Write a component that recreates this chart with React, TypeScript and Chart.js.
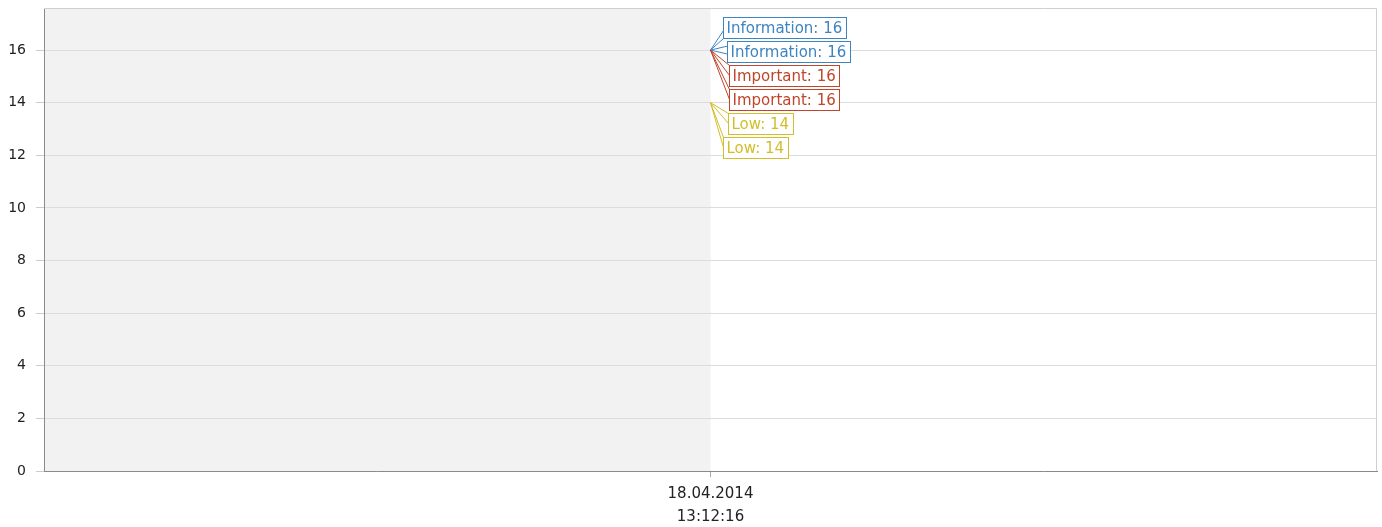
import React, { useEffect, useRef } from "react";
import { Chart, registerables } from "chart.js";

Chart.register(...registerables);

const categories: string[][] = [["18.04.2014", "13:12:16"]];
const seriesNames = ["Information", "Information", "Important", "Important", "Low", "Low"];
const seriesValues = [[16], [16], [16], [16], [14], [14]];
const seriesColors = ["#3d84c2", "#3d84c2", "#c0452a", "#c0452a", "#d4bd2a", "#d4bd2a"];
const yTicks = { min: 0, max: 17.6, step: 2 };

const FONT = "DejaVu Sans";

const labelOffsetsX = [12, 16, 18, 18, 17, 12];

const decoPlugin = {
  id: "deco",
  beforeDraw(chart: any) {
    const { ctx, chartArea } = chart;
    const xs = chart.scales.x;
    const cx = xs.getPixelForValue(0);
    ctx.save();
    ctx.fillStyle = "#f2f2f2";
    ctx.fillRect(chartArea.left, chartArea.top, cx - chartArea.left, chartArea.bottom - chartArea.top);
    ctx.restore();
  },
  afterDraw(chart: any) {
    const { ctx, chartArea } = chart;
    ctx.save();
    ctx.strokeStyle = "#cfcfcf";
    ctx.lineWidth = 1;
    ctx.beginPath();
    ctx.moveTo(chartArea.left, chartArea.top + 0.5);
    ctx.lineTo(chartArea.right - 0.5, chartArea.top + 0.5);
    ctx.lineTo(chartArea.right - 0.5, chartArea.bottom);
    ctx.stroke();

    // value labels
    ctx.font = `15px "${FONT}"`;
    ctx.textBaseline = "middle";
    ctx.textAlign = "left";
    const startTop = 17;
    const stepY = 24;
    const h = 21;
    chart.data.datasets.forEach((ds: any, i: number) => {
      const meta = chart.getDatasetMeta(i);
      const pt = meta.data[0];
      if (!pt) return;
      const color = seriesColors[i];
      const px = pt.x;
      const py = pt.y;
      const text = `${seriesNames[i]}: ${ds.data[0]}`;
      const w = Math.round(ctx.measureText(text).width) + 7;
      const bx = Math.round(px + labelOffsetsX[i]) + 0.5;
      const by = startTop + stepY * i + 0.5;
      let ya: number, yb: number;
      if (by + h <= py) {
        ya = by + h - 8;
        yb = by + h;
      } else if (by >= py) {
        ya = by;
        yb = by + 10;
      } else {
        ya = Math.max(by, py - 4);
        yb = Math.min(by + h, py + 4);
      }
      ctx.lineWidth = 1;
      ctx.strokeStyle = color;
      ctx.fillStyle = "#ffffff";
      ctx.beginPath();
      ctx.moveTo(bx, ya);
      ctx.lineTo(px, py);
      ctx.lineTo(bx, yb);
      ctx.closePath();
      ctx.fill();
      ctx.beginPath();
      ctx.moveTo(bx, ya);
      ctx.lineTo(px, py);
      ctx.lineTo(bx, yb);
      ctx.stroke();
      ctx.fillStyle = "#ffffff";
      ctx.fillRect(bx, by, w, h);
      ctx.strokeStyle = color;
      ctx.strokeRect(bx, by, w, h);
      ctx.fillStyle = color;
      ctx.fillText(text, bx + 3, by + h / 2 + 1);
    });
    ctx.restore();
  },
};

export default function App() {
  const ref = useRef<HTMLCanvasElement | null>(null);
  useEffect(() => {
    if (!ref.current) return;
    const chart = new Chart(ref.current, {
      type: "line",
      data: {
        labels: categories,
        datasets: seriesValues.map((vals, i) => ({
          label: seriesNames[i],
          data: vals,
          borderColor: seriesColors[i],
          backgroundColor: seriesColors[i],
          pointRadius: 0,
          borderWidth: 1,
        })),
      },
      options: {
        animation: false,
        responsive: true,
        maintainAspectRatio: false,
        layout: { padding: { top: 8, right: 5, left: 0, bottom: 0 } },
        plugins: { legend: { display: false }, tooltip: { enabled: false } },
        scales: {
          x: {
            offset: true,
            grid: { drawOnChartArea: false, tickLength: 6, color: "#aaaaaa", offset: false },
            border: { color: "#8a8a8a", width: 1 },
            ticks: { color: "#222", font: { family: FONT, size: 15, lineHeight: "23px" }, padding: 6, maxRotation: 0 },
            afterFit: (s: any) => {
              s.height = 56;
              s.paddingLeft = 0;
              s.paddingRight = 0;
            },
          },
          y: {
            min: yTicks.min,
            max: yTicks.max,
            grid: { color: "#dcdcdc", tickLength: 8, tickColor: "#cccccc" },
            border: { color: "#8a8a8a", width: 1 },
            ticks: { stepSize: yTicks.step, includeBounds: false, color: "#222", font: { family: FONT, size: 14 }, padding: 10 },
            afterFit: (s: any) => {
              s.width = 44;
              s.paddingTop = 0;
              s.paddingBottom = 0;
            },
          },
        },
      },
      plugins: [decoPlugin],
    });
    return () => chart.destroy();
  }, []);
  return (
    <div style={{ position: "absolute", left: 0, top: 0, width: 1382, height: 527, background: "#fff" }}>
      <canvas ref={ref} />
    </div>
  );
}
